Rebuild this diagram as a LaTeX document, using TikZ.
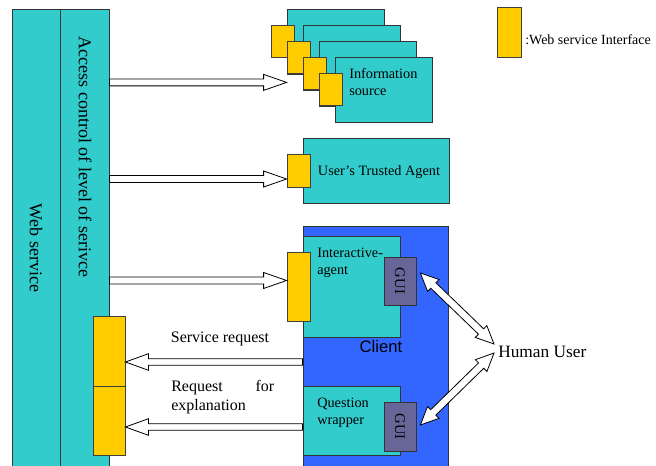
\documentclass[tikz,border=0pt]{standalone}
\usepackage{fontspec}
\setmainfont{Liberation Serif}
\newfontfamily\clientfont{Liberation Sans}
\usetikzlibrary{calc,fit}

\definecolor{tealbox}{HTML}{33CCCC}
\definecolor{ifyellow}{HTML}{FFCC00}
\definecolor{clientblue}{HTML}{3366FF}
\definecolor{guigray}{HTML}{666699}

\tikzset{
  box/.style={draw=black!80, line width=0.6pt, fill=tealbox, inner sep=0pt},
  iface/.style={draw=black!75, line width=0.6pt, fill=ifyellow, inner sep=0pt},
  clientbox/.style={draw=black!80, line width=0.6pt, fill=clientblue, inner sep=0pt},
  guibox/.style={draw=black!80, line width=0.6pt, fill=guigray, inner sep=0pt},
  fatline/.style={draw=black, line width=0.6pt, fill=white, line join=miter},
  lbl/.style={inner sep=0pt, font=\fontsize{10.7}{12.8}\selectfont},
  biglbl/.style={inner sep=0pt, font=\fontsize{12}{14.4}\selectfont},
  collbl/.style={inner sep=0pt, rotate=-90, font=\fontsize{13.5}{16}\selectfont},
  guilbl/.style={inner sep=0pt, rotate=-90, font=\fontsize{11}{13}\selectfont},
}

% hollow arrow: tail, tip, shaft half width, head half width, head length
\newcommand\fatarrow[5]{%
  \coordinate (fa-h) at ($(#2)!#5!(#1)$);
  \draw[fatline] ($(#1)!#3!90:(#2)$) -- ($(fa-h)!#3!-90:(#1)$) -- ($(fa-h)!#4!-90:(#1)$)
    -- (#2) -- ($(fa-h)!#4!90:(#1)$) -- ($(fa-h)!#3!90:(#1)$) -- ($(#1)!#3!-90:(#2)$) -- cycle;
}
% hollow arrow with a head at both ends
\newcommand\fatdblarrow[5]{%
  \coordinate (fa-a) at ($(#1)!#5!(#2)$);
  \coordinate (fa-b) at ($(#2)!#5!(#1)$);
  \draw[fatline] (#1) -- ($(fa-a)!#4!90:(#2)$) -- ($(fa-a)!#3!90:(#2)$)
    -- ($(fa-b)!#3!-90:(#1)$) -- ($(fa-b)!#4!-90:(#1)$) -- (#2)
    -- ($(fa-b)!#4!90:(#1)$) -- ($(fa-b)!#3!90:(#1)$)
    -- ($(fa-a)!#3!-90:(#2)$) -- ($(fa-a)!#4!-90:(#2)$) -- cycle;
}

\begin{document}
\begin{tikzpicture}[x=0.75pt, y=-0.75pt]
\useasboundingbox (0,0) rectangle (656,466);

% service column
\node[box, fit={(12,9)(60,470)}] (ws) {};
\node[box, fit={(60,9)(109,470)}] (acc) {};
\node[collbl] (wslabel) at (36,248) {Web service};
\node[collbl] (acclabel) at (85,157) {Access control of level of serivce};

% information sources
\foreach \i in {0,1,2,3} {
  \node[box, fit={({287+16*\i},{9+16*\i})({384+16*\i},{74+16*\i})}] (src\i) {};
  \node[iface, fit={({271+16*\i},{25+16*\i})({294+16*\i},{57+16*\i})}] (srcif\i) {};
}
\node[lbl, anchor=north west, align=left] (srctext) at (349,68) {Information\\source};

% user's trusted agent
\node[box, fit={(303,138)(449,203)}] (uta) {};
\node[iface, fit={(287,154)(310,187)}] (utaif) {};
\node[lbl] (utatext) at (379,172) {User’s Trusted Agent};

% client
\node[clientbox, fit={(303,226)(448,470)}] (client) {};
\node[box, fit={(303,236)(400,337)}] (ia) {};
\node[guibox, fit={(384,257)(416,305)}] (gui1) {};
\node[guilbl] at (gui1.center) {GUI};
\node[lbl, anchor=north west, align=left] (iatext) at (317,247.5) {Interactive-\\agent};
\node[iface, fit={(287,252)(310,321)}] (iaif) {};
\node[inner sep=0pt, font=\clientfont\fontsize{12.5}{15}\selectfont] (clientlbl) at (381,347) {Client};
\node[box, fit={(303,386)(400,455)}] (qw) {};
\node[guibox, fit={(384,402)(416,451)}] (gui2) {};
\node[guilbl] at (gui2.center) {GUI};
\node[lbl, anchor=north west, align=left] (qwtext) at (317,397.5) {Question\\wrapper};

% interfaces on the service side
\node[iface, fit={(93,316)(125,386)}] (yl1) {};
\node[iface, fit={(93,386)(125,455)}] (yl2) {};

% arrows from the service column
\coordinate (a1tip) at ($(srcif1.south west)+(0,9)$);
\coordinate (a1tail) at (acc.east |- a1tip);
\fatarrow{a1tail}{a1tip}{2.6pt}{6pt}{17.25pt}
\coordinate (a2tip) at ($(utaif.west)+(0,8.5)$);
\coordinate (a2tail) at (acc.east |- a2tip);
\fatarrow{a2tail}{a2tip}{2.6pt}{6pt}{17.25pt}
\coordinate (a3tip) at ($(iaif.west)+(0,-6)$);
\coordinate (a3tail) at (acc.east |- a3tip);
\fatarrow{a3tail}{a3tip}{2.6pt}{6pt}{17.25pt}

% requests back to the service
\coordinate (srtip) at ($(yl1.east)+(0,11)$);
\coordinate (srtail) at (client.west |- srtip);
\fatarrow{srtail}{srtip}{2.4pt}{6.2pt}{17.25pt}
\coordinate (retip) at ($(yl2.east)+(0,6.5)$);
\coordinate (retail) at (qw.west |- retip);
\fatarrow{retail}{retip}{2.4pt}{6.2pt}{17.25pt}
\node[biglbl] (srlbl) at (220,338.5) {Service request};
\node[biglbl, anchor=north west, text width=77.25pt, align=justify] (relbl) at (171,380)
  {Request\hfill for\\explanation};

% human user
\node[inner sep=0pt, anchor=west, font=\fontsize{13}{15.6}\selectfont] (user) at (498,352) {Human User};
\coordinate (g1end) at ($(gui1.east)+(4,-8)$);
\coordinate (u1end) at ($(user.west)+(-4,-8)$);
\fatdblarrow{g1end}{u1end}{2.8pt}{6.2pt}{13.5pt}
\coordinate (g2end) at ($(gui2.east)+(4,-1.5)$);
\coordinate (u2end) at ($(user.west)+(-4,1)$);
\fatdblarrow{g2end}{u2end}{2.8pt}{6.2pt}{13.5pt}

% legend
\node[iface, fit={(497,7)(521,57)}] (legif) {};
\node[lbl, anchor=west, font=\fontsize{10.5}{12.6}\selectfont] (legtext) at (525,40) {:Web service Interface};
\end{tikzpicture}
\end{document}
